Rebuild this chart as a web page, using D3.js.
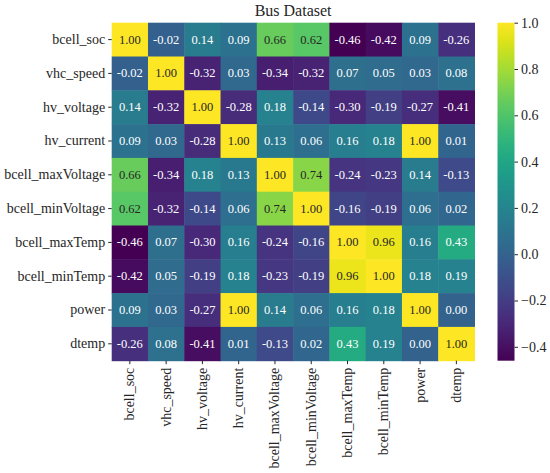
<!DOCTYPE html>
<html><head><meta charset="utf-8">
<script src="https://cdn.jsdelivr.net/npm/d3@7"></script>
<style>body{margin:0;background:#fff;} svg{display:block;}</style>
</head><body>
<script>
const labels = ["bcell_soc","vhc_speed","hv_voltage","hv_current","bcell_maxVoltage","bcell_minVoltage","bcell_maxTemp","bcell_minTemp","power","dtemp"];
const matrix = [
  [1.00,-0.02,0.14,0.09,0.66,0.62,-0.46,-0.42,0.09,-0.26],
  [-0.02,1.00,-0.32,0.03,-0.34,-0.32,0.07,0.05,0.03,0.08],
  [0.14,-0.32,1.00,-0.28,0.18,-0.14,-0.30,-0.19,-0.27,-0.41],
  [0.09,0.03,-0.28,1.00,0.13,0.06,0.16,0.18,1.00,0.01],
  [0.66,-0.34,0.18,0.13,1.00,0.74,-0.24,-0.23,0.14,-0.13],
  [0.62,-0.32,-0.14,0.06,0.74,1.00,-0.16,-0.19,0.06,0.02],
  [-0.46,0.07,-0.30,0.16,-0.24,-0.16,1.00,0.96,0.16,0.43],
  [-0.42,0.05,-0.19,0.18,-0.23,-0.19,0.96,1.00,0.18,0.19],
  [0.09,0.03,-0.27,1.00,0.14,0.06,0.16,0.18,1.00,0.00],
  [-0.26,0.08,-0.41,0.01,-0.13,0.02,0.43,0.19,0.00,1.00]
];
const cbTicks = [1.0,0.8,0.6,0.4,0.2,0.0,-0.2,-0.4];
const vmin = -0.46, vmax = 1.0;
const title = "Bus Dataset";

const W = 550, H = 473;
const font = "'Liberation Serif', 'DejaVu Serif', serif";
const L = 111.7, T = 22.7, R = 474.5, B = 360.7;

const svg = d3.select("body").append("svg").attr("width", W).attr("height", H)
  .style("font-family", font);

const x = d3.scaleBand().domain(labels).range([L, R]);
const y = d3.scaleBand().domain(labels).range([T, B]);
const color = d3.scaleSequential(d3.interpolateViridis).domain([vmin, vmax]);

const cells = [];
matrix.forEach((row, i) => row.forEach((v, j) => cells.push({r: labels[i], c: labels[j], v})));

svg.append("g").selectAll("rect").data(cells).join("rect")
  .attr("x", d => x(d.c)).attr("y", d => y(d.r))
  .attr("width", x.bandwidth() + 0.5).attr("height", y.bandwidth() + 0.5)
  .attr("fill", d => color(d.v));

function lum(c){
  const rgb = d3.rgb(c);
  const f = u => { u/=255; return u <= 0.03928 ? u/12.92 : Math.pow((u+0.055)/1.055, 2.4); };
  return 0.2126*f(rgb.r) + 0.7152*f(rgb.g) + 0.0722*f(rgb.b);
}

svg.append("g").selectAll("text").data(cells).join("text")
  .attr("x", d => x(d.c) + x.bandwidth()/2)
  .attr("y", d => y(d.r) + y.bandwidth()/2)
  .attr("text-anchor", "middle").attr("dominant-baseline", "central")
  .attr("font-size", 12.5)
  .attr("fill", d => lum(color(d.v)) > 0.408 ? "#262626" : "#ffffff")
  .text(d => d.v.toFixed(2));

// Y axis
const yAxis = d3.axisLeft(y).tickSize(3.5).tickPadding(3);
const gy = svg.append("g").attr("transform", `translate(${L},0)`).call(yAxis);
gy.select(".domain").remove();
gy.selectAll("text").attr("font-size", 14).attr("fill", "#262626").style("font-family", font);
gy.selectAll("line").attr("stroke", "#262626");

// X axis
const xAxis = d3.axisBottom(x).tickSize(3.5).tickPadding(3);
const gx = svg.append("g").attr("transform", `translate(0,${B})`).call(xAxis);
gx.select(".domain").remove();
gx.selectAll("line").attr("stroke", "#262626");
gx.selectAll("text").attr("font-size", 14).attr("fill", "#262626").style("font-family", font)
  .attr("transform", "rotate(-90)")
  .attr("text-anchor", "end")
  .attr("x", -7).attr("y", 0).attr("dy", "0.32em");

// Title
svg.append("text").attr("x", (L + R)/2).attr("y", 15.7)
  .attr("text-anchor", "middle").attr("font-size", 16).attr("fill", "#262626").text(title);

// Colorbar
const cbL = 497.5, cbW = 17;
const cy = d3.scaleLinear().domain([vmin, vmax]).range([B, T]);
const defs = svg.append("defs");
const grad = defs.append("linearGradient").attr("id", "cbg").attr("x1", 0).attr("y1", 1).attr("x2", 0).attr("y2", 0);
d3.range(0, 1.0001, 0.05).forEach(t => {
  grad.append("stop").attr("offset", t).attr("stop-color", color(vmin + t*(vmax - vmin)));
});
svg.append("rect").attr("x", cbL).attr("y", T).attr("width", cbW).attr("height", B - T).attr("fill", "url(#cbg)");
const cAxis = d3.axisRight(cy).tickValues(cbTicks).tickSize(3.5).tickPadding(3)
  .tickFormat(d => d3.format(".1f")(d).replace("-", "\u2212"));
const gc = svg.append("g").attr("transform", `translate(${cbL + cbW},0)`).call(cAxis);
gc.select(".domain").remove();
gc.selectAll("line").attr("stroke", "#262626");
gc.selectAll("text").attr("font-size", 14).attr("fill", "#262626").style("font-family", font);
</script>
</body></html>
